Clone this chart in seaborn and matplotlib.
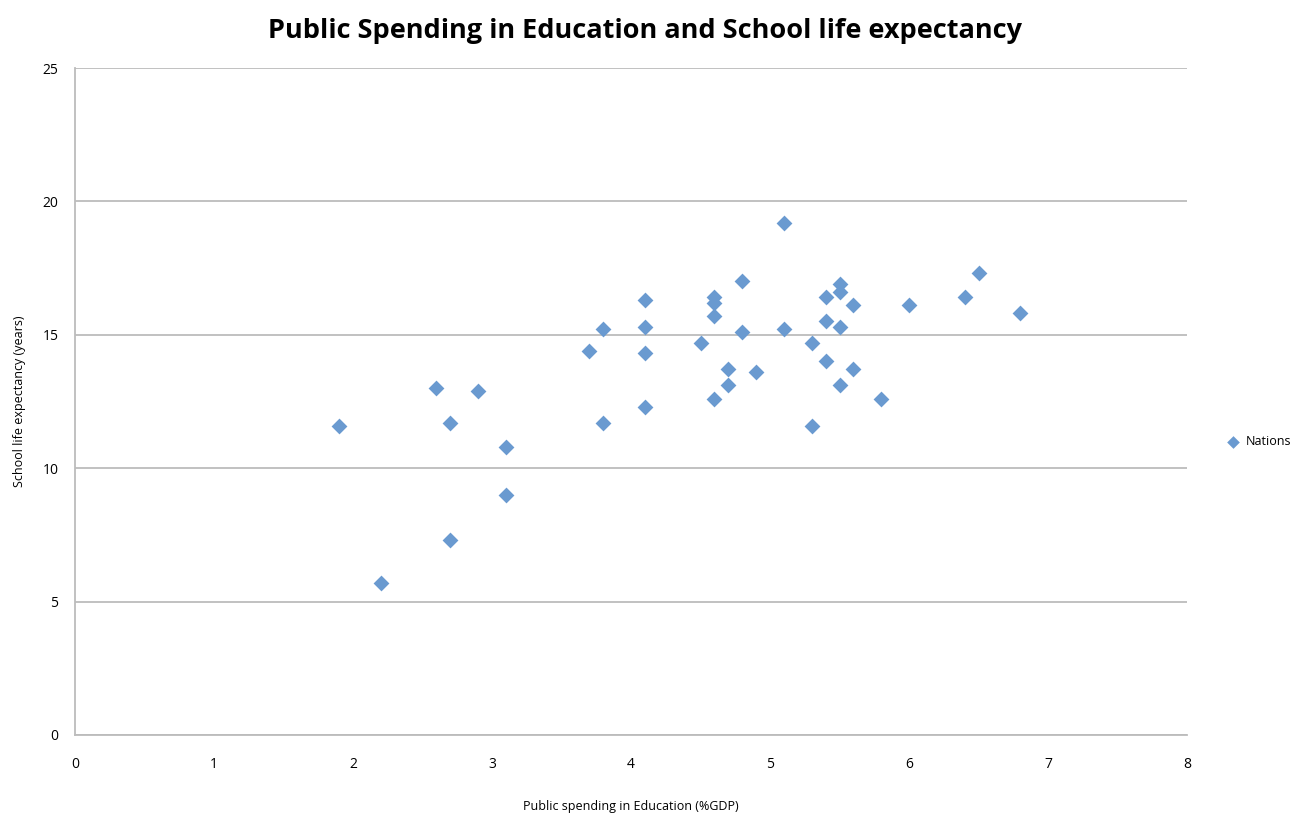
import matplotlib
matplotlib.use("Agg")
import matplotlib.pyplot as plt
import seaborn as sns
import pandas as pd

# Public spending on education (% of GDP) and school life expectancy (years)
spending = [1.9, 2.2, 2.6, 2.7, 2.7, 2.9, 3.1, 3.1, 3.7, 3.8, 3.8,
            4.1, 4.1, 4.1, 4.1, 4.5, 4.6, 4.6, 4.6, 4.6, 4.7, 4.7,
            4.8, 4.8, 4.9, 5.1, 5.1, 5.3, 5.3, 5.4, 5.4, 5.4,
            5.5, 5.5, 5.5, 5.5, 5.6, 5.6, 5.8, 6.0, 6.4, 6.5, 6.8]
life_exp = [11.6, 5.7, 13.0, 11.7, 7.3, 12.9, 10.8, 9.0, 14.4, 15.2, 11.7,
            16.3, 15.3, 14.3, 12.3, 14.7, 16.4, 16.2, 15.7, 12.6, 13.7, 13.1,
            17.0, 15.1, 13.6, 19.2, 15.2, 14.7, 11.6, 16.4, 15.5, 14.0,
            16.9, 16.6, 15.3, 13.1, 16.1, 13.7, 12.6, 16.1, 16.4, 17.3, 15.8]
x_ticks = [0, 1, 2, 3, 4, 5, 6, 7, 8]
y_ticks = [0, 5, 10, 15, 20, 25]

df = pd.DataFrame({"spending": spending, "life_exp": life_exp})

sns.set_style("white")
plt.rcParams["font.family"] = ["Open Sans", "DejaVu Sans"]
plt.rcParams["text.color"] = "black"
plt.rcParams["axes.labelcolor"] = "black"
plt.rcParams["xtick.labelcolor"] = "black"
plt.rcParams["ytick.labelcolor"] = "black"

fig = plt.figure(figsize=(13.03, 8.16), dpi=100)
ax = fig.add_axes([75 / 1303, 1 - 735 / 816, 1112 / 1303, 667 / 816])

sns.scatterplot(data=df, x="spending", y="life_exp", ax=ax, marker="D",
                color="#6a9ad0", s=65, linewidth=0, label="Nations", zorder=3)

ax.set_xlim(0, 8)
ax.set_ylim(0, 25)
ax.set_xticks(x_ticks)
ax.set_yticks(y_ticks)
ax.yaxis.grid(True, color="#bcbcbc", linewidth=1.3)
ax.xaxis.grid(False)
for side in ["top", "right"]:
    ax.spines[side].set_visible(False)
for side in ["left", "bottom"]:
    ax.spines[side].set_color("#bcbcbc")
    ax.spines[side].set_linewidth(1.3)
ax.tick_params(axis="both", which="both", direction="out", length=6,
               color="#bcbcbc", width=1.2, labelsize=10, pad=6)
ax.tick_params(axis="x", pad=10)

ax.set_xlabel("Public spending in Education (%GDP)", fontsize=9, labelpad=20)
ax.set_ylabel("School life expectancy (years)", fontsize=9, labelpad=12)

fig.suptitle("Public Spending in Education and School life expectancy",
             fontsize=19.5, fontweight="bold", y=0.978, x=645 / 1303)

ax.legend(loc="center left", bbox_to_anchor=(1.02, 0.44), frameon=False,
          fontsize=9, handletextpad=0.0, markerscale=0.8)

fig.savefig("out.png", dpi=100)
